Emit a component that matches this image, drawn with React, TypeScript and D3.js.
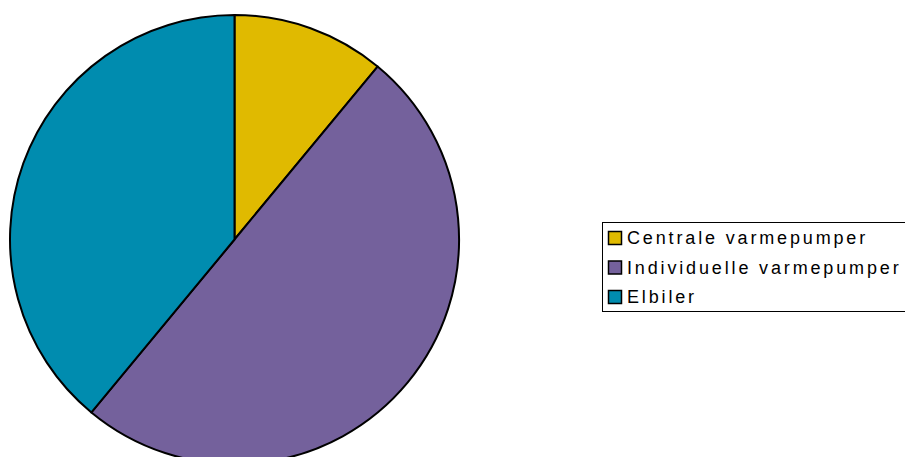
import React from "react";
import * as d3 from "d3";

const categories = ["Centrale varmepumper", "Individuelle varmepumper", "Elbiler"];
const values = [11, 50, 39];
const colors = ["#E0BA00", "#74619C", "#008CAF"];

export default function App() {
  const W = 905, H = 457;
  const cx = 234.5, cy = 239.5, r = 224.5;
  const pie = d3.pie<number>().sort(null).value((d) => d)(values);
  const arc = d3.arc<d3.PieArcDatum<number>>().innerRadius(0).outerRadius(r);
  return (
    <svg width={W} height={H} style={{ position: "absolute", left: 0, top: 0 }}>
      <g transform={`translate(${cx},${cy})`}>
        {pie.map((p, i) => (
          <path key={i} d={arc(p) || ""} fill={colors[i]} stroke="#000" strokeWidth={2} strokeLinejoin="round" />
        ))}
      </g>
      <rect x={602.5} y={222.5} width={320} height={89} fill="#fff" stroke="#000" strokeWidth={1} />
      {categories.map((c, i) => (
        <g key={c} transform={`translate(608,${231 + i * 29.5})`}>
          <rect x={0.5} y={0.5} width={13} height={13} fill={colors[i]} stroke="#000" strokeWidth={1.5} />
          <text x={19} y={13} fontFamily="Liberation Sans, Arial, sans-serif" fontSize={18} letterSpacing={2.85} fill="#000">
            {c}
          </text>
        </g>
      ))}
    </svg>
  );
}
